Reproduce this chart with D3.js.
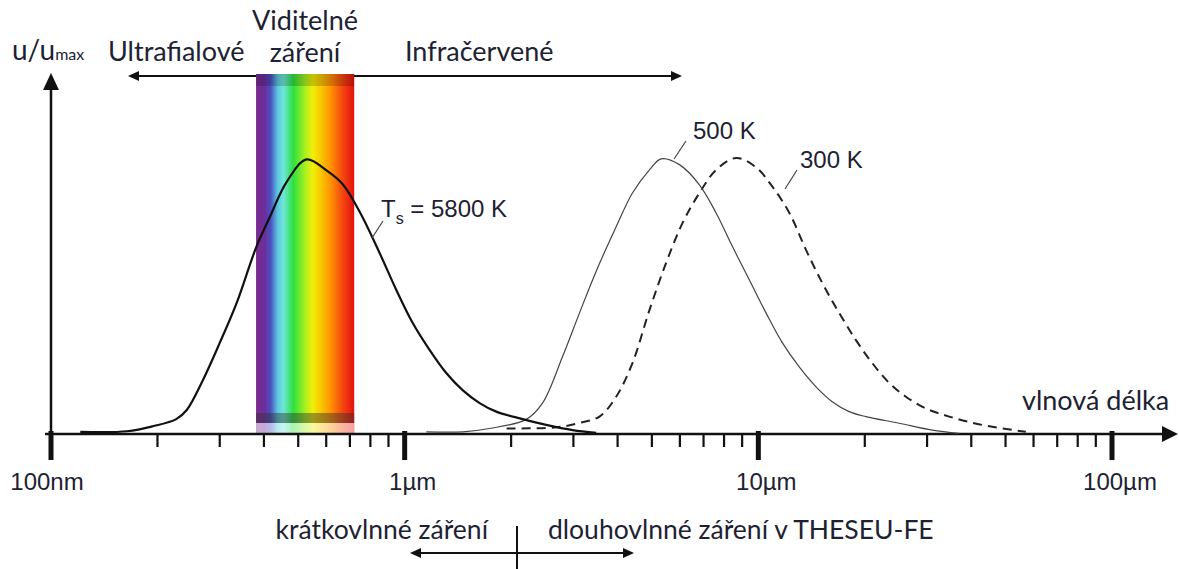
<!DOCTYPE html>
<html>
<head>
<meta charset="utf-8">
<script src="https://d3js.org/d3.v7.min.js"></script>
<style>
  body { margin: 0; background: #fff; }
  svg { display: block; }
  .lbl { font-family: Lato, "Open Sans", sans-serif; fill: #1d2233; }
  .arial { font-family: "Liberation Sans", Arial, sans-serif; fill: #1d2233; }
</style>
</head>
<body>
<script>
// wavelength in micrometres, u/umax
const curve5800 = [[0.121,0.008],[0.164,0.010],[0.194,0.028],[0.226,0.054],[0.242,0.087],[0.269,0.196],[0.300,0.330],[0.335,0.475],[0.381,0.679],[0.416,0.787],[0.463,0.912],[0.528,0.995],[0.601,0.955],[0.668,0.905],[0.746,0.805],[0.850,0.655],[0.947,0.522],[1.054,0.402],[1.177,0.304],[1.311,0.221],[1.458,0.159],[1.629,0.112],[1.815,0.081],[2.155,0.054],[2.513,0.033],[2.985,0.014],[3.480,0.004]];
const curve500 = [[1.152,0.008],[1.461,0.008],[1.738,0.020],[2.207,0.053],[2.453,0.112],[2.794,0.280],[3.120,0.438],[3.480,0.590],[3.963,0.751],[4.406,0.873],[4.922,0.957],[5.310,0.997],[5.982,0.976],[6.813,0.903],[7.596,0.801],[8.450,0.679],[9.436,0.558],[10.52,0.438],[11.70,0.330],[13.05,0.243],[14.56,0.171],[16.18,0.117],[18.07,0.081],[20.14,0.063],[25.01,0.039],[31.02,0.014],[36.96,0.002]];
const curve300 = [[1.942,0.020],[2.518,0.022],[2.794,0.027],[3.120,0.040],[3.555,0.063],[3.963,0.135],[4.406,0.257],[4.922,0.449],[5.485,0.620],[6.102,0.764],[6.813,0.873],[7.596,0.957],[8.650,1.000],[9.857,0.966],[10.96,0.896],[12.24,0.801],[13.64,0.667],[15.17,0.547],[16.94,0.438],[18.88,0.340],[20.99,0.257],[23.44,0.185],[26.13,0.135],[29.74,0.093],[34.64,0.063],[42.94,0.033],[57.05,0.008]];

const visibleRange = [0.38, 0.72];
const majorTicks = [0.1, 1, 10, 100];
const tickLabels = ["100nm", "1\u00b5m", "10\u00b5m", "100\u00b5m"];
const spectrumStops = [
  [0, "#7b2a8e"], [0.09, "#6a2f9c"], [0.15, "#4a50c0"], [0.22, "#5cc8e0"],
  [0.28, "#6ee6d8"], [0.38, "#2ee040"], [0.5, "#a8f020"], [0.58, "#f2ee08"],
  [0.66, "#f8c800"], [0.76, "#ff9200"], [0.88, "#f44810"], [1, "#e41010"]
];

const W = 1179, H = 569;
const svg = d3.select("body").append("svg").attr("width", W).attr("height", H);

const x = d3.scaleLog().domain([0.1, 100]).range([51, 1112]);
const y = d3.scaleLinear().domain([0, 1]).range([434, 158]);
const base = y(0);

// spectrum band
const grad = svg.append("defs").append("linearGradient").attr("id", "spec");
grad.selectAll("stop").data(spectrumStops).join("stop")
  .attr("offset", d => d[0]).attr("stop-color", d => d[1]);

const bx0 = x(visibleRange[0]), bx1 = x(visibleRange[1]);

// top arrow UV - IR
svg.append("line").attr("x1", 134).attr("x2", 674).attr("y1", 76).attr("y2", 76)
  .attr("stroke", "#111").attr("stroke-width", 2);
svg.append("path").attr("d", "M128,76 L139,71 L139,81 Z").attr("fill", "#111");
svg.append("path").attr("d", "M682,76 L671,71 L671,81 Z").attr("fill", "#111");

svg.append("rect").attr("x", bx0).attr("y", 74).attr("width", bx1 - bx0).attr("height", base - 74)
  .attr("fill", "url(#spec)");
svg.append("rect").attr("x", bx0).attr("y", 74).attr("width", bx1 - bx0).attr("height", 12)
  .attr("fill", "#000").attr("opacity", 0.18);
svg.append("rect").attr("x", bx0).attr("y", 413).attr("width", bx1 - bx0).attr("height", 10)
  .attr("fill", "#333").attr("opacity", 0.45);
svg.append("rect").attr("x", bx0).attr("y", 423).attr("width", bx1 - bx0).attr("height", base - 423)
  .attr("fill", "#fff").attr("opacity", 0.6);

// axes
svg.append("line").attr("x1", 51).attr("x2", 51).attr("y1", base).attr("y2", 86)
  .attr("stroke", "#111").attr("stroke-width", 2.5);
svg.append("path").attr("d", "M51,73 L43,90 L59,90 Z").attr("fill", "#111");
svg.append("line").attr("x1", 45).attr("x2", 1165).attr("y1", base).attr("y2", base)
  .attr("stroke", "#111").attr("stroke-width", 2.5);
svg.append("path").attr("d", "M1178,434 L1162,426 L1162,442 Z").attr("fill", "#111");

const minor = x.ticks().filter(t => !majorTicks.some(m => Math.abs(m - t) < 1e-9));
svg.append("g").selectAll("line").data(minor).join("line")
  .attr("x1", d => x(d)).attr("x2", d => x(d)).attr("y1", base).attr("y2", base + 13)
  .attr("stroke", "#111").attr("stroke-width", 2.2);
svg.append("g").selectAll("line").data(majorTicks).join("line")
  .attr("x1", d => x(d)).attr("x2", d => x(d)).attr("y1", base - 3).attr("y2", base + 26)
  .attr("stroke", "#111").attr("stroke-width", 5);
svg.append("g").selectAll("text").data(majorTicks).join("text")
  .attr("class", "arial").attr("font-size", 24)
  .attr("x", (d, i) => x(d) + (i === 0 ? -4 : 8)).attr("y", 490).attr("text-anchor", "middle")
  .text((d, i) => tickLabels[i]);

// curves
const line = d3.line().x(d => x(d[0])).y(d => y(d[1])).curve(d3.curveCatmullRom.alpha(0.5));
svg.append("path").datum(curve300).attr("d", line).attr("fill", "none")
  .attr("stroke", "#222").attr("stroke-width", 2).attr("stroke-dasharray", "9 6");
svg.append("path").datum(curve500).attr("d", line).attr("fill", "none")
  .attr("stroke", "#444").attr("stroke-width", 1.2);
svg.append("path").datum(curve5800).attr("d", line).attr("fill", "none")
  .attr("stroke", "#111").attr("stroke-width", 2.2);

// curve labels + leaders
const lead = (x1, y1, x2, y2) => svg.append("line").attr("x1", x1).attr("y1", y1).attr("x2", x2).attr("y2", y2)
  .attr("stroke", "#444").attr("stroke-width", 1.2);
lead(674, 159, 686, 141);
lead(785, 189, 797, 170);
lead(372, 238, 383, 221);

svg.append("text").attr("class", "arial").attr("font-size", 24).attr("x", 693).attr("y", 139).text("500 K");
svg.append("text").attr("class", "arial").attr("font-size", 24).attr("x", 800).attr("y", 168).text("300 K");
const ts = svg.append("text").attr("class", "arial").attr("font-size", 24).attr("x", 381).attr("y", 217);
ts.append("tspan").text("T");
ts.append("tspan").attr("font-size", 16).attr("dy", 7).text("s");
ts.append("tspan").attr("dy", -7).text(" = 5800 K");

// top labels
const uu = svg.append("text").attr("class", "lbl").attr("x", 12).attr("y", 60).attr("font-size", 28);
uu.append("tspan").text("u/u");
uu.append("tspan").attr("font-size", 16).text("max");
svg.append("text").attr("class", "lbl").attr("font-size", 27).attr("x", 108).attr("y", 61).text("Ultrafialové");
svg.append("text").attr("class", "lbl").attr("font-size", 27).attr("x", 305).attr("y", 30).attr("text-anchor", "middle").text("Viditelné");
svg.append("text").attr("class", "lbl").attr("font-size", 27).attr("x", 305).attr("y", 62).attr("text-anchor", "middle").text("záření");
svg.append("text").attr("class", "lbl").attr("font-size", 27).attr("x", 405).attr("y", 61).text("Infračervené");
svg.append("text").attr("class", "lbl").attr("font-size", 27).attr("x", 1022).attr("y", 410).text("vlnová délka");

// bottom short / long wave
svg.append("text").attr("class", "lbl").attr("font-size", 26.5).attr("x", 488).attr("y", 539).attr("text-anchor", "end").text("krátkovlnné záření");
svg.append("text").attr("class", "lbl").attr("font-size", 26.5).attr("x", 548).attr("y", 539).text("dlouhovlnné záření v THESEU-FE");
svg.append("line").attr("x1", 517).attr("x2", 517).attr("y1", 526).attr("y2", H)
  .attr("stroke", "#111").attr("stroke-width", 2);
svg.append("line").attr("x1", 418).attr("x2", 626).attr("y1", 553).attr("y2", 553)
  .attr("stroke", "#111").attr("stroke-width", 2);
svg.append("path").attr("d", "M410,553 L421,548 L421,558 Z").attr("fill", "#111");
svg.append("path").attr("d", "M634,553 L623,548 L623,558 Z").attr("fill", "#111");
</script>
</body>
</html>
